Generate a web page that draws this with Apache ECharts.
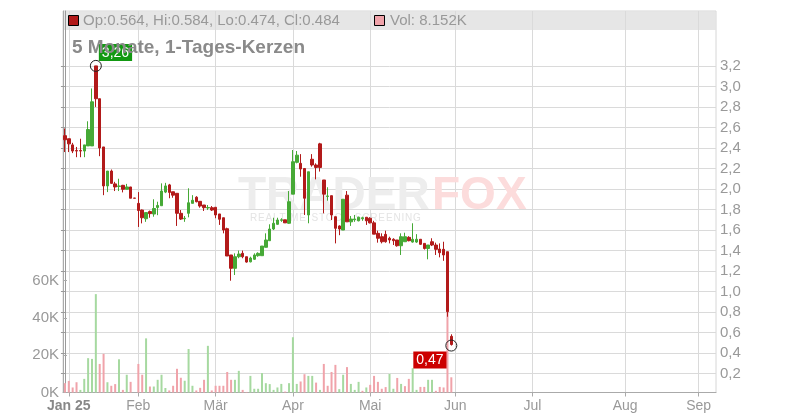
<!DOCTYPE html>
<html><head><meta charset="utf-8">
<script src="https://cdn.jsdelivr.net/npm/echarts@6/dist/echarts.min.js"></script>
<style>html,body{margin:0;padding:0;background:#fff}#c{width:800px;height:420px}</style>
</head><body><div id="c"></div>
<script>
// ---- data ----
const monthNames = ['', 'Jan 25', 'Feb', 'Mär', 'Apr', 'Mai', 'Jun', 'Jul', 'Aug', 'Sep'];
const monthSlots = [1, 18, 20, 20, 20, 22, 20, 24, 19, 5];
const priceTicks = [0.2,0.4,0.6,0.8,1.0,1.2,1.4,1.6,1.8,2.0,2.2,2.4,2.6,2.8,3.0,3.2];
const volTicks = [0, 20000, 40000, 60000];
const markerLabels = ['3,26', '0,47'];

const open = [2.52,2.49,2.43,2.375,2.375,2.37,2.42,2.42,3.20,2.88,
 2.41,2.03,2.175,2.05,2.025,2.036,1.997,2.02,1.912,1.86,
 1.795,1.71,1.78,1.756,1.82,1.837,1.97,2.04,1.973,1.958,
 1.763,1.71,1.763,1.86,1.92,1.88,1.844,1.815,1.818,1.822,
 1.757,1.72,1.613,1.357,1.227,1.34,1.373,1.34,1.29,1.315,
 1.35,1.35,1.432,1.496,1.61,1.656,1.695,1.70,1.666,1.95,
 2.26,2.25,2.20,1.747,2.29,2.234,2.44,2.088,1.928,1.935,
 1.73,1.64,1.60,1.94,1.68,1.70,1.69,1.71,1.725,1.715,
 1.67,1.568,1.535,1.558,1.52,1.51,1.503,1.447,1.486,1.529,
 1.483,1.483,1.51,1.47,1.42,1.486,1.454,1.415,1.412,1.389,
 0.564];
const close = [2.48,2.44,2.37,2.37,2.37,2.43,2.58,2.85,2.88,2.40,
 2.03,2.175,2.055,2.02,2.03,1.997,2.02,1.91,1.91,1.79,
 1.72,1.77,1.76,1.81,1.84,1.98,2.03,1.967,1.94,1.763,
 1.707,1.715,1.866,1.89,1.876,1.834,1.818,1.82,1.795,1.747,
 1.705,1.60,1.347,1.227,1.34,1.366,1.34,1.288,1.327,1.357,
 1.373,1.444,1.503,1.61,1.666,1.698,1.70,1.67,1.876,2.266,
 2.33,2.195,1.91,2.168,2.234,2.21,2.21,1.95,1.932,1.747,
 1.617,1.61,1.90,1.68,1.707,1.708,1.725,1.72,1.69,1.67,
 1.56,1.52,1.486,1.486,1.503,1.496,1.447,1.535,1.535,1.496,
 1.51,1.51,1.461,1.42,1.454,1.454,1.412,1.379,1.357,0.804,
 0.484];
const low = [2.36,2.36,2.35,2.31,2.31,2.31,2.42,2.42,2.80,2.32,
 1.94,1.97,2.05,1.98,1.98,1.967,1.997,1.91,1.91,1.63,
 1.665,1.68,1.72,1.73,1.745,1.837,1.96,1.91,1.915,1.64,
 1.698,1.68,1.724,1.86,1.87,1.818,1.786,1.795,1.786,1.715,
 1.65,1.568,1.347,1.106,1.162,1.325,1.325,1.282,1.285,1.308,
 1.34,1.35,1.43,1.496,1.60,1.65,1.68,1.67,1.66,1.95,
 2.25,2.12,1.747,1.666,2.218,2.094,2.17,1.763,1.886,1.698,
 1.47,1.55,1.60,1.68,1.64,1.68,1.685,1.69,1.65,1.665,
 1.56,1.477,1.47,1.477,1.47,1.454,1.438,1.357,1.486,1.49,
 1.477,1.475,1.455,1.41,1.315,1.444,1.357,1.334,1.30,0.755,
 0.474];
const high = [2.59,2.49,2.45,2.41,2.49,2.43,2.66,2.98,3.20,2.88,
 2.41,2.175,2.19,2.07,2.10,2.04,2.05,2.02,1.912,1.97,
 1.80,1.77,1.79,1.90,1.876,2.055,2.06,2.05,1.973,1.958,
 1.795,1.737,2.007,1.94,1.93,1.88,1.844,1.844,1.834,1.822,
 1.757,1.72,1.623,1.357,1.373,1.40,1.40,1.34,1.34,1.373,
 1.383,1.444,1.568,1.656,1.72,1.72,1.715,1.70,1.98,2.38,
 2.37,2.34,2.20,2.168,2.34,2.25,2.45,2.088,2.017,1.935,
 1.73,1.646,1.90,1.98,1.737,1.747,1.73,1.73,1.725,1.725,
 1.69,1.594,1.568,1.594,1.535,1.52,1.503,1.568,1.574,1.54,
 1.666,1.56,1.51,1.47,1.454,1.52,1.477,1.47,1.486,1.389,
 0.584];
const volume = [5000,6200,2700,5500,1400,7300,18400,18000,52700,15300,
 20700,5500,3600,4500,17800,1400,9500,5700,0,15300,
 9500,29000,3200,3200,6800,9500,2400,1100,3600,12700,
 7900,6300,23300,3600,1100,2500,6800,25000,1100,3600,
 3600,3600,11000,6800,6800,11600,1400,300,8900,2000,
 2000,10400,5000,4500,1400,2700,4600,500,5000,29600,
 4600,5900,9800,8900,8900,5300,1400,15300,3600,11000,
 14800,1800,9500,13600,4600,1400,5700,900,2700,4100,
 8900,5700,2000,2900,10000,2000,7800,4600,3400,7300,
 13000,1400,3000,3000,6800,6800,900,3000,2700,43000,
 8152];
const volUp = [0,0,0,0,1,1,1,1,1,0,
 0,1,0,0,1,0,1,0,0,0,
 0,1,0,1,1,1,1,0,0,0,
 0,1,1,1,0,0,0,1,0,0,
 0,0,0,0,1,1,0,0,1,1,
 1,1,1,1,1,1,1,0,1,1,
 1,0,0,1,1,0,1,0,0,0,
 0,1,1,0,1,1,1,0,1,0,
 0,0,0,0,1,1,0,1,0,0,
 1,1,0,0,1,1,0,0,0,0,
 0];

// ---- build ----
const FONT = '"Liberation Sans", Arial, sans-serif';
const UP = '#46a936', DOWN = '#b21a1a', VUP = '#a6d9a0', VDOWN = '#f0a3aa';
const categories = [], monthStart = [];
monthSlots.forEach((n, m) => { monthStart.push(categories.length); for (let k = 0; k < n; k++) categories.push(m + '-' + k); });
const N = categories.length;
const tickIdx = monthStart.filter((s, m) => monthNames[m] !== '');
const candleData = open.map((o, i) => [o, close[i], low[i], high[i]]);
const volData = volume.map((v, i) => ({ value: v, itemStyle: { color: volUp[i] ? VUP : VDOWN } }));
const last = open.length - 1;
let hiIdx = 0; high.forEach((h, i) => { if (h > high[hiIdx]) hiIdx = i; });
const loIdx = last;
const fmt3 = v => v.toFixed(3);
const spaced = s => s.split('').join('\u200A');

const chart = echarts.init(document.getElementById('c'));
chart.setOption({
  animation: false,
  backgroundColor: '#fff',
  textStyle: { fontFamily: FONT },
  grid: [
    { left: 63, right: 84, top: 11, bottom: 27.5, show: true, borderColor: '#d6d6d6', borderWidth: 1, backgroundColor: 'transparent' },
    { left: 63, right: 84, top: 280.5, bottom: 27.5, show: false }
  ],
  xAxis: [
    { type: 'category', gridIndex: 0, data: categories, boundaryGap: true, axisLine: { show: false }, axisTick: { show: false }, axisLabel: { show: false }, splitLine: { show: false } },
    { type: 'value', gridIndex: 0, min: -0.5, max: N - 0.5, position: 'bottom',
      axisLine: { show: true, lineStyle: { color: '#aaa' } },
      axisTick: { show: true, customValues: tickIdx, length: 4, lineStyle: { color: '#aaa' } },
      axisLabel: { customValues: tickIdx, color: '#999', fontSize: 14, margin: 7, fontFamily: FONT,
        formatter: v => { const m = monthStart.indexOf(Math.round(v)); const t = monthNames[m] || ''; return m === 1 ? '{b|' + t + '}' : t; },
        rich: { b: { fontWeight: 'bold', color: '#888', fontSize: 14, fontFamily: FONT } } },
      splitLine: { show: true, lineStyle: { color: '#dadada' } } },
    { type: 'category', gridIndex: 1, data: categories, boundaryGap: true, axisLine: { show: false }, axisTick: { show: false }, axisLabel: { show: false }, splitLine: { show: false } }
  ],
  yAxis: [
    { type: 'value', gridIndex: 0, position: 'right', min: 0.0166, max: 3.735,
      axisLine: { show: true, lineStyle: { color: '#9a9a9a' } },
      axisTick: { show: true, inside: true, length: 4, customValues: priceTicks, lineStyle: { color: '#9a9a9a' } },
      axisLabel: { customValues: priceTicks, color: '#999', fontSize: 15, margin: 4, fontFamily: FONT,
        formatter: v => v.toFixed(1).replace('.', ',') },
      splitLine: { show: true, lineStyle: { color: '#dadada' } } },
    { type: 'value', gridIndex: 0, position: 'left', min: 0, max: 1,
      axisLine: { show: true, lineStyle: { color: '#aaa' } }, axisTick: { show: false }, minorTick: { show: false }, axisLabel: { show: false }, splitLine: { show: false } },
    { type: 'value', gridIndex: 1, position: 'left', min: 0, max: 60000, interval: 20000,
      axisLine: { show: false },
      axisTick: { show: true, inside: true, length: 4, lineStyle: { color: '#aaa' } },
      axisLabel: { color: '#999', fontSize: 15, margin: 4, fontFamily: FONT, formatter: v => (v / 1000) + 'K' },
      splitLine: { show: false } }
  ],
  series: [
    { type: 'bar', xAxisIndex: 2, yAxisIndex: 2, data: volData, barWidth: 2, silent: true },
    { type: 'candlestick', xAxisIndex: 0, yAxisIndex: 0, data: candleData, barWidth: 3, clip: false,
      itemStyle: { color: UP, color0: DOWN, borderColor: UP, borderColor0: DOWN, borderWidth: 1 },
      markPoint: {
        symbol: 'circle', symbolSize: 11, silent: true,
        itemStyle: { color: 'rgba(255,255,255,0)', borderColor: '#222', borderWidth: 1 },
        label: { show: true, color: '#fff', fontSize: 14, fontFamily: FONT, padding: [2, 3, 1, 3] },
        data: [
          { coord: [categories[hiIdx], high[hiIdx]], label: { formatter: markerLabels[0], backgroundColor: '#129912', position: [9, -16] } },
          { coord: [categories[loIdx], low[loIdx]], label: { formatter: markerLabels[1], backgroundColor: '#cc0000', position: [-32, 12] } }
        ]
      } }
  ],
  graphic: [
    { type: 'rect', z: -1, shape: { x: 63.5, y: 11.5, width: 652, height: 18.5 }, style: { fill: '#e6e6e6' } },
    { type: 'rect', z: 10, shape: { x: 68.5, y: 15.5, width: 10, height: 10 }, style: { fill: DOWN, stroke: '#000', lineWidth: 1 } },
    { type: 'text', z: 10, x: 83, y: 21, style: { text: 'Op:' + fmt3(open[last]) + ', Hi:' + fmt3(high[last]) + ', Lo:' + fmt3(low[last]) + ', Cl:' + fmt3(close[last]), fill: '#999', font: '15px ' + FONT, textVerticalAlign: 'middle' } },
    { type: 'rect', z: 10, shape: { x: 374.5, y: 15.5, width: 10, height: 10 }, style: { fill: VDOWN, stroke: '#000', lineWidth: 1 } },
    { type: 'text', z: 10, x: 390, y: 21, style: { text: 'Vol: ' + (volume[last] / 1000).toFixed(3) + 'K', fill: '#999', font: '15px ' + FONT, textVerticalAlign: 'middle' } },
    { type: 'text', z: 1, x: 238, y: 173, style: { text: 'TRADER', fill: '#ededed', font: 'bold 46px ' + FONT } },
    { type: 'text', z: 1, x: 432, y: 173, style: { text: 'FOX', fill: '#fcdcdc', font: 'bold 46px ' + FONT } },
    { type: 'text', z: 1, x: 250, y: 213, style: { text: spaced('REALTIME') + '  ' + spaced('STOCK') + '  ' + spaced('SCREENING'), fill: '#e4e4e4', font: '10px ' + FONT } },
    { type: 'text', z: 100, x: 72, y: 38.5, style: { text: '5 Monate, 1-Tages-Kerzen', fill: '#8a8a8a', font: 'bold 19px ' + FONT } }
  ]
});
</script>
</body></html>
